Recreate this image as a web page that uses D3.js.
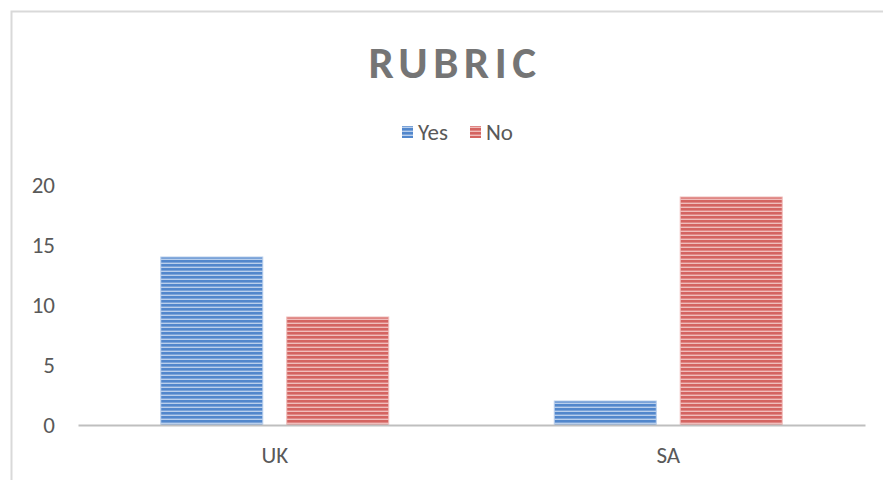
<!DOCTYPE html>
<html>
<head>
<meta charset="utf-8">
<script src="https://cdn.jsdelivr.net/npm/d3@7/dist/d3.min.js"></script>
<style>
  body { margin: 0; background: #fff; }
  svg { display: block; font-family: Calibri, Carlito, "Open Sans", sans-serif; }
</style>
</head>
<body>
<svg id="chart" width="883" height="480"></svg>
<script>
var categories = ["UK", "SA"];
var seriesNames = ["Yes", "No"];
var yesValues = [14, 2];
var noValues = [9, 19];
var yTicks = [0, 5, 10, 15, 20];

var svg = d3.select("#chart");
var margin = { left: 78, right: 18 };
var width = 883, height = 480;
var fontStack = "Calibri, Carlito, 'Open Sans', sans-serif";

var colors = { Yes: ["#5287cc", "#b9cfec"], No: ["#d46461", "#f0bdbb"] };

// striped fills
var defs = svg.append("defs");
seriesNames.forEach(function(s) {
    var p = defs.append("pattern")
        .attr("id", "stripe-" + s)
        .attr("patternUnits", "userSpaceOnUse")
        .attr("width", 8)
        .attr("height", 4);
    p.append("rect").attr("width", 8).attr("height", 4).attr("fill", colors[s][1]);
    p.append("rect").attr("width", 8).attr("height", 2.6).attr("fill", colors[s][0]);
});

// chart border
svg.append("rect")
    .attr("x", 11.5).attr("y", 11.5)
    .attr("width", 900).attr("height", 500)
    .attr("fill", "none")
    .attr("stroke", "#d9d9d9")
    .attr("stroke-width", 2);

var x0 = d3.scaleBand()
    .domain(categories)
    .range([margin.left, width - margin.right]);

var x1 = d3.scaleBand()
    .domain(seriesNames)
    .range([0, x0.bandwidth()])
    .paddingInner(0.19)
    .paddingOuter(0.657);

var y = d3.scaleLinear()
    .domain([0, 20])
    .range([425, 185]);

// title
svg.append("text")
    .attr("x", 455)
    .attr("y", 78)
    .attr("text-anchor", "middle")
    .attr("fill", "#757575")
    .attr("font-size", 45)
    .attr("font-weight", "bold")
    .attr("letter-spacing", 5.5)
    .text("RUBRIC");

// legend
var legend = svg.append("g").attr("class", "legend");
var legendX = [402, 470];
seriesNames.forEach(function(s, i) {
    legend.append("rect")
        .attr("x", legendX[i]).attr("y", 126)
        .attr("width", 11).attr("height", 12)
        .attr("fill", "url(#stripe-" + s + ")");
    legend.append("text")
        .attr("x", legendX[i] + 16)
        .attr("y", 140)
        .attr("fill", "#595959")
        .attr("font-size", 23)
        .text(s);
});

// y axis labels
var yAxis = svg.append("g")
    .attr("transform", "translate(55,0)")
    .call(d3.axisLeft(y).tickValues(yTicks).tickSize(0).tickPadding(0));
yAxis.select(".domain").remove();
yAxis.selectAll("text")
    .attr("fill", "#595959")
    .attr("font-size", 23)
    .attr("font-family", fontStack);

// bars
var data = categories.map(function(c, i) {
    return { cat: c, values: [{ s: "Yes", v: yesValues[i] }, { s: "No", v: noValues[i] }] };
});

svg.append("g")
    .selectAll("g")
    .data(data)
    .enter().append("g")
    .attr("transform", function(d) { return "translate(" + x0(d.cat) + ",0)"; })
    .selectAll("rect")
    .data(function(d) { return d.values; })
    .enter().append("rect")
    .attr("x", function(d) { return x1(d.s); })
    .attr("width", x1.bandwidth())
    .attr("y", function(d) { return y(d.v); })
    .attr("height", function(d) { return y(0) - y(d.v); })
    .attr("fill", function(d) { return "url(#stripe-" + d.s + ")"; })
    .attr("stroke", function(d) { return colors[d.s][1]; })
    .attr("stroke-width", 1);

// x axis
var xAxis = svg.append("g")
    .attr("transform", "translate(0," + y(0) + ")")
    .call(d3.axisBottom(x0).tickSize(0).tickPadding(22));
xAxis.select(".domain")
    .attr("stroke", "#bfbfbf")
    .attr("stroke-width", 2);
xAxis.selectAll("text")
    .attr("fill", "#595959")
    .attr("font-size", 23)
    .attr("font-family", fontStack);
</script>
</body>
</html>
